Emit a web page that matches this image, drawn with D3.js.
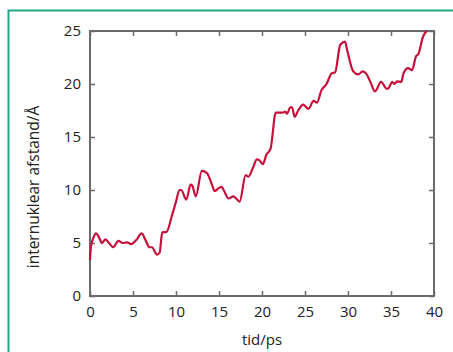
<!DOCTYPE html>
<html>
<head>
<meta charset="utf-8">
<script src="https://cdn.jsdelivr.net/npm/d3@7"></script>
<style>
  body { margin: 0; background: #fff; }
  svg { display: block; }
  text { font-family: "Open Sans", "Noto Sans", sans-serif; fill: #222; }
</style>
</head>
<body>
<script>
const timeValues = [0.0,0.1,0.4,0.7,1.0,1.4,1.8,2.2,2.7,3.3,3.8,4.3,4.8,5.4,6.0,6.5,6.9,7.2,7.8,8.1,8.4,8.9,9.5,10.0,10.4,10.6,11.2,11.7,11.9,12.3,13.0,13.6,14.1,14.5,15.0,15.3,15.6,16.1,16.7,17.0,17.4,18.1,18.4,19.0,19.4,19.7,20.1,20.5,21.0,21.6,22.4,22.7,22.9,23.3,23.5,23.8,24.2,24.8,25.4,26.0,26.4,26.9,27.5,28.1,28.5,29.1,29.65,29.9,30.6,31.2,31.7,32.1,32.6,33.15,33.85,34.5,34.7,35.15,35.4,35.7,36.2,36.45,37.0,37.45,37.9,38.2,38.7,39.05,39.2];
const distanceValues = [3.4,4.6,5.5,5.9,5.6,5.0,5.35,5.0,4.6,5.2,5.0,5.05,4.9,5.3,5.9,5.2,4.6,4.6,3.9,4.1,6.0,6.05,7.5,8.9,10.0,10.0,9.1,10.5,10.4,9.4,11.8,11.6,10.7,9.9,10.2,10.3,9.9,9.2,9.4,9.2,8.9,11.4,11.25,12.2,12.9,12.8,12.45,13.3,13.9,17.3,17.3,17.4,17.2,17.8,17.8,16.9,17.5,18.05,17.65,18.4,18.25,19.4,20.0,21.0,21.1,23.7,24.0,23.2,21.2,20.9,21.2,21.0,20.2,19.3,20.2,19.55,19.6,20.2,20.0,20.25,20.2,21.0,21.5,21.3,22.6,22.85,24.4,24.9,25.0];
const xTicks = [0,5,10,15,20,25,30,35,40];
const yTicks = [0,5,10,15,20,25];
const xLabel = "tid/ps";
const yLabel = "internuklear afstand/Å";

const W = 453, H = 352;
const L = 90, T = 31, R = 434, B = 296;

const svg = d3.select("body").append("svg").attr("width", W).attr("height", H);

// teal frame (top and left)
svg.append("path")
  .attr("d", `M8.5,352 L8.5,10.5 L453,10.5`)
  .attr("fill", "none").attr("stroke", "#1fa88b").attr("stroke-width", 2);

const x = d3.scaleLinear().domain([0, 40]).range([L, R]);
const y = d3.scaleLinear().domain([0, 25]).range([B, T]);

const frameColor = "#6b6b6b";
const tickLen = 5;

const gB = svg.append("g").attr("transform", `translate(0,${B})`)
  .call(d3.axisBottom(x).tickValues(xTicks).tickSizeInner(-tickLen).tickSizeOuter(0).tickPadding(10));
const gT = svg.append("g").attr("transform", `translate(0,${T})`)
  .call(d3.axisTop(x).tickValues(xTicks).tickSizeInner(-tickLen).tickSizeOuter(0).tickFormat(""));
const gL = svg.append("g").attr("transform", `translate(${L},0)`)
  .call(d3.axisLeft(y).tickValues(yTicks).tickSizeInner(-tickLen).tickSizeOuter(0).tickPadding(9));
const gR = svg.append("g").attr("transform", `translate(${R},0)`)
  .call(d3.axisRight(y).tickValues(yTicks).tickSizeInner(-tickLen).tickSizeOuter(0).tickFormat(""));

[gB, gT, gL, gR].forEach(g => {
  g.selectAll(".domain").remove();
  g.selectAll(".tick line").attr("stroke", frameColor).attr("stroke-width", 1.5);
  g.selectAll(".tick text").style("font-size", "15px").style("font-family", '"Open Sans", sans-serif').attr("fill", "#222");
});

svg.append("rect")
  .attr("x", L).attr("y", T).attr("width", R - L).attr("height", B - T)
  .attr("fill", "none").attr("stroke", frameColor).attr("stroke-width", 2);

const data = timeValues.map((t, i) => ({ t, v: distanceValues[i] }));
const line = d3.line().x(d => x(d.t)).y(d => y(d.v)).curve(d3.curveMonotoneX);

svg.append("path").datum(data)
  .attr("d", line)
  .attr("fill", "none")
  .attr("stroke", "#c4103a")
  .attr("stroke-width", 2.2)
  .attr("stroke-linejoin", "round");

svg.append("text")
  .attr("x", (L + R) / 2).attr("y", 345)
  .attr("text-anchor", "middle")
  .style("font-size", "15px")
  .text(xLabel);

svg.append("text")
  .attr("transform", `translate(39,187) rotate(-90)`)
  .attr("text-anchor", "middle")
  .style("font-size", "15.5px")
  .text(yLabel);
</script>
</body>
</html>
